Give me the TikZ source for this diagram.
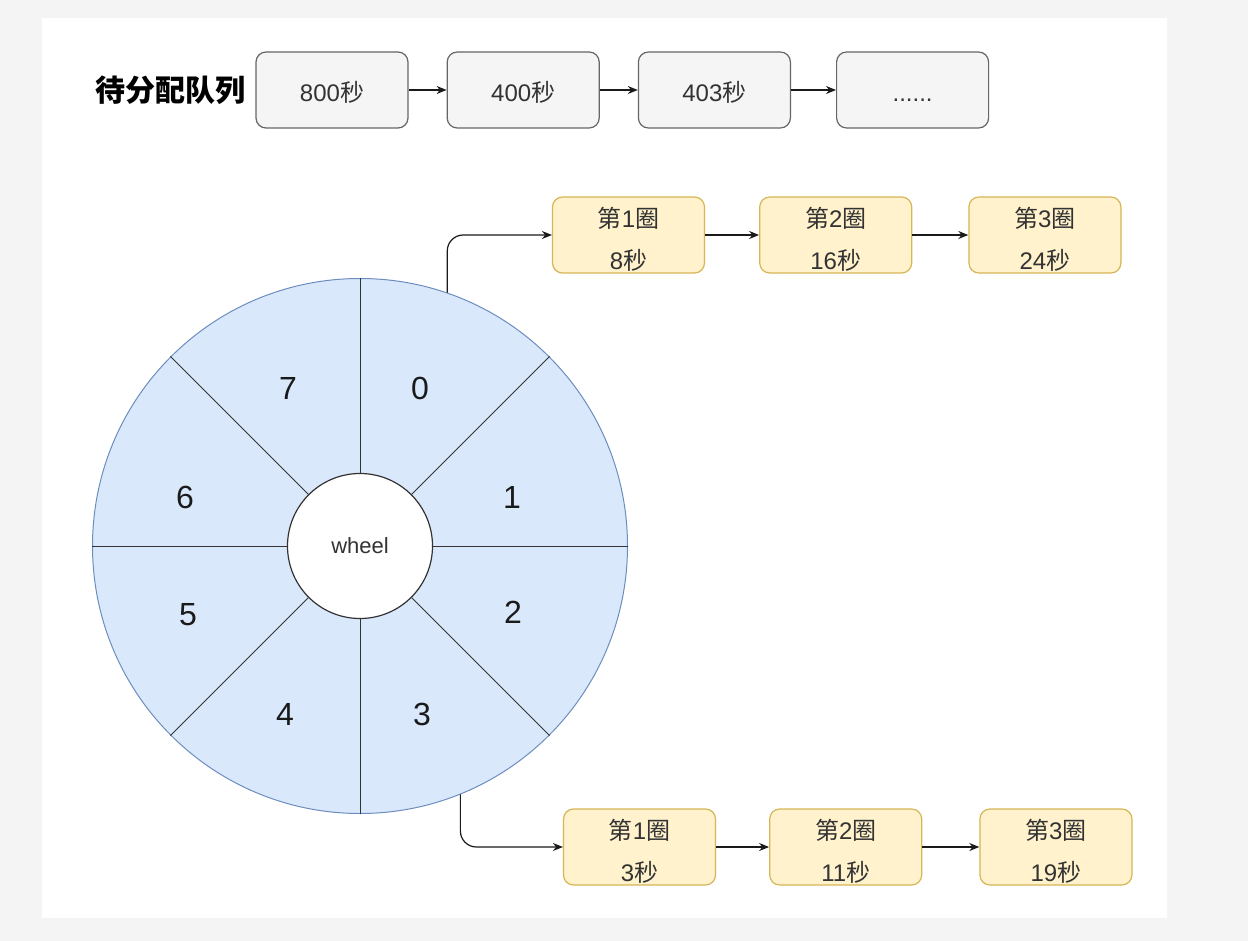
\documentclass[tikz,border=0pt]{standalone}
\usepackage{fontspec}
\setmainfont{Liberation Sans}
\newfontfamily\cjk{Noto Sans CJK SC}
\usepackage{tikz}
\usetikzlibrary{arrows.meta, positioning}
\definecolor{pagegray}{HTML}{F4F4F4}
\definecolor{taskfill}{HTML}{F5F5F5}
\definecolor{taskline}{HTML}{666666}
\definecolor{roundfill}{HTML}{FFF2CC}
\definecolor{roundline}{HTML}{D6B656}
\definecolor{ringfill}{HTML}{DAE8FC}
\definecolor{ringline}{HTML}{6C8EBF}
\definecolor{txt}{HTML}{333333}
\definecolor{arrowc}{HTML}{1A1A1A}
% round n, delay in seconds
\newcommand\rnd[2]{\rule{0pt}{14.5pt}{\cjk 第}#1{\cjk 圈}\\#2{\cjk 秒}}

\begin{document}
\begin{tikzpicture}[
  x=0.5pt, y=-0.5pt,
  node distance=19pt,
  task/.style={
    draw=taskline, fill=taskfill, rounded corners=5pt, line width=0.6pt,
    minimum width=76pt, minimum height=38pt, text height=12pt, text depth=0pt,
    font=\fontsize{12}{14}\selectfont, text=txt
  },
  round/.style={
    draw=roundline, fill=roundfill, rounded corners=5pt, line width=0.6pt,
    minimum width=76pt, minimum height=38pt, inner ysep=0pt, align=center,
    font=\fontsize{12}{21}\selectfont, text=txt
  },
  arrow/.style={-{Stealth[length=5pt, width=4pt]}, line width=0.6pt, draw=arrowc},
  spoke/.style={draw=txt, line width=0.5pt},
  num/.style={font=\fontsize{16}{18}\selectfont, text=arrowc},
]
  % Page
  \fill[pagegray] (0,0) rectangle (1248,941);
  \fill[white] (42,18) rectangle (1167,918);

  % Waiting queue
  \node[task] (q1) at (332,90) {800{\cjk 秒}};
  \node[task, right=of q1] (q2) {400{\cjk 秒}};
  \node[task, right=of q2] (q3) {403{\cjk 秒}};
  \node[task, right=22.5pt of q3] (q4) {......};
  \node[left=1.5pt of q1, font=\fontsize{15}{17}\selectfont\cjk\bfseries] (title) {待分配队列};

  \draw[arrow] (q1) -- (q2);
  \draw[arrow] (q2) -- (q3);
  \draw[arrow] (q3) -- (q4);

  % Wheel
  \node[circle, draw=ringline, fill=ringfill, line width=0.5pt,
    minimum size=267.5pt, inner sep=0pt] (ring) at (360,546) {};
  \node[circle, draw=txt, fill=white, line width=0.6pt, minimum size=72.5pt,
    inner sep=0pt, font=\fontsize{11}{13}\selectfont, text=txt] (hub) at (ring.center) {wheel};
  \foreach \a in {0,45,...,315}
    \draw[spoke] (hub.\a) -- (ring.\a);
  \foreach \n/\x/\y in {0/420/388, 1/512/497, 2/513/612, 3/422/714,
                        4/285/714, 5/188/615, 6/185/497, 7/288/388}
    \node[num] (slot\n) at (\x,\y) {\n};

  % Slot 0 rounds
  \node[round] (t1) at (628.5,235) {\rnd{1}{8}};
  \node[round, right=27pt of t1] (t2) {\rnd{2}{16}};
  \node[round, right=28pt of t2] (t3) {\rnd{3}{24}};
  \draw[arrow, rounded corners=8pt] (ring.71) |- (t1.west);
  \draw[arrow] (t1) -- (t2);
  \draw[arrow] (t2) -- (t3);

  % Slot 3 rounds
  \node[round] (b1) at (639.5,847) {\rnd{1}{3}};
  \node[round, right=26.5pt of b1] (b2) {\rnd{2}{11}};
  \node[round, right=28.5pt of b2] (b3) {\rnd{3}{19}};
  \draw[arrow, rounded corners=8pt] (ring.-68) |- (b1.west);
  \draw[arrow] (b1) -- (b2);
  \draw[arrow] (b2) -- (b3);
\end{tikzpicture}
\end{document}
